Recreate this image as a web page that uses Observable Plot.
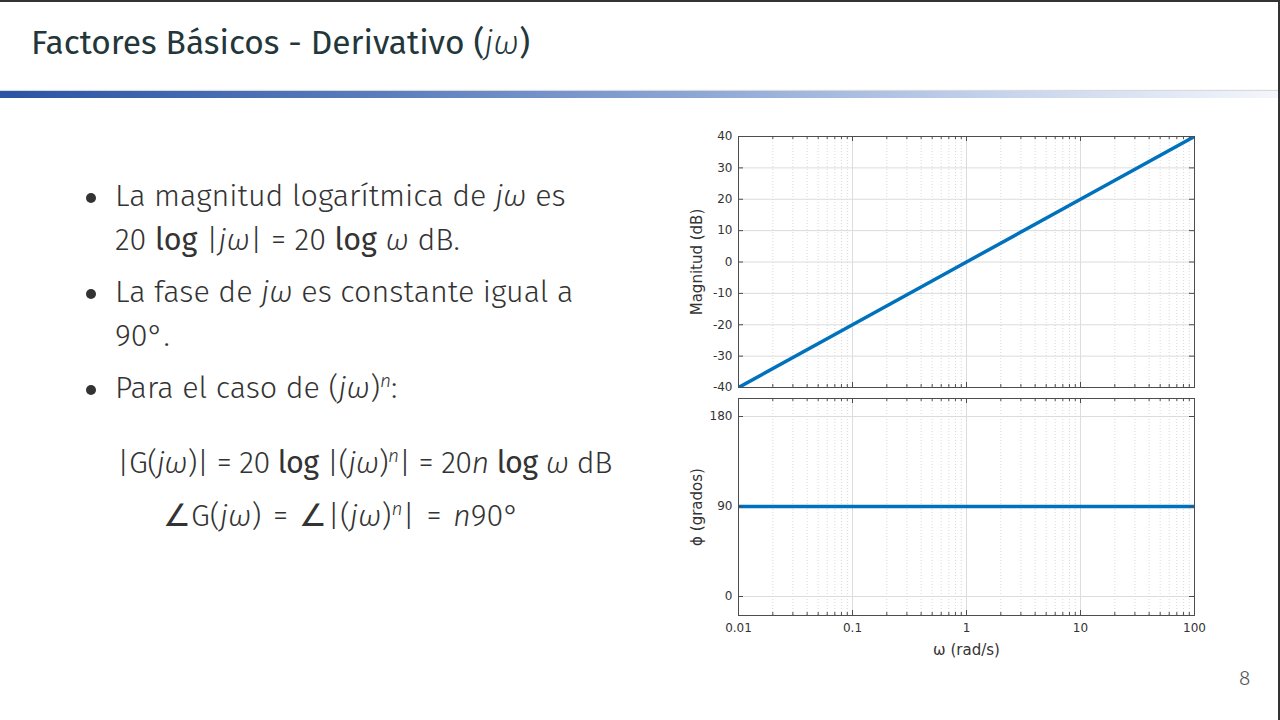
<!DOCTYPE html>
<html><head><meta charset="utf-8">
<script src="https://cdn.jsdelivr.net/npm/d3@7"></script>
<script src="https://cdn.jsdelivr.net/npm/@observablehq/plot@0.6"></script>
<style>
html,body{margin:0;padding:0;}
body{width:1280px;height:720px;position:relative;overflow:hidden;background:#fff;font-family:"Fira Sans",Lato,"Open Sans",sans-serif;color:#2f3b3d;}
#topline{position:absolute;left:0;top:0;width:1280px;height:2px;background:#333;}
#rightline{position:absolute;right:0;top:0;width:2px;height:720px;background:#333;}
#title{position:absolute;left:31px;top:21px;font-size:33.5px;line-height:44px;color:#23373b;white-space:nowrap;}
#bar{position:absolute;left:0;top:91px;width:1278px;height:7px;background:linear-gradient(to right,#2a54a4 0%,#5b7dbd 30%,#8ea8d6 55%,#c9d6ee 80%,#f4f6fb 100%);box-shadow:0 -1px 1px rgba(0,0,0,0.15);}
.ln{position:absolute;white-space:nowrap;font-size:30.5px;line-height:40px;font-weight:300;color:#333;}
.bul{position:absolute;width:10px;height:10px;border-radius:50%;background:#333;}
.m{font-style:italic;}
.lg{font-weight:400;}
sup{line-height:0;font-size:19px;font-style:italic;}
.eq{margin:0 3px;}
#page{position:absolute;left:1239px;top:665px;font-size:21px;color:#555;font-weight:300;}
.chart{position:absolute;left:680px;}
.chart svg{overflow:visible;}
</style></head><body>
<div id="topline"></div><div id="rightline"></div>
<div id="title">Factores Básicos - Derivativo (<span class="m" style="font-weight:300">jω</span>)</div>
<div id="bar"></div>

<div class="bul" style="left:86px;top:193px"></div>
<div class="ln" style="left:115px;top:176px">La magnitud logarítmica de <span class="m">jω</span> es</div>
<div class="ln" style="left:115px;top:220px">20 <span class="lg">log</span> |<span class="m">jω</span>| = 20 <span class="lg">log</span> <span class="m">ω</span> dB.</div>
<div class="bul" style="left:86px;top:289px"></div>
<div class="ln" style="left:115px;top:272px">La fase de <span class="m">jω</span> es constante igual a</div>
<div class="ln" style="left:115px;top:316px">90°.</div>
<div class="bul" style="left:86px;top:385px"></div>
<div class="ln" style="left:115px;top:368px">Para el caso de (<span class="m">jω</span>)<sup>n</sup>:</div>
<div class="ln" style="left:117px;top:443px;letter-spacing:-0.5px">|G(<span class="m">jω</span>)| = 20 <span class="lg">log</span> |(<span class="m">jω</span>)<sup>n</sup>| = 20<span class="m">n</span> <span class="lg">log</span> <span class="m">ω</span> dB</div>
<div class="ln" style="left:163px;top:496px">∠G(<span class="m">jω</span>) <span class="eq">=</span> ∠|(<span class="m">jω</span>)<sup>n</sup>| <span class="eq">=</span> <span class="m">n</span>90°</div>
<div id="page">8</div>

<div id="topChart" class="chart" style="top:126px"></div>
<div id="botChart" class="chart" style="top:388px"></div>

<script>
// Data
const omega = [0.01, 0.1, 1, 10, 100];
const magnitudeDb = [-40, -20, 0, 20, 40];
const phaseDeg = [90, 90, 90, 90, 90];
const xTicks = [0.01, 0.1, 1, 10, 100];
const xTickLabels = ["0.01", "0.1", "1", "10", "100"];
const magTicks = [-40, -30, -20, -10, 0, 10, 20, 30, 40];
const magTickLabels = ["-40", "-30", "-20", "-10", "0", "10", "20", "30", "40"];
const phaseTicks = [0, 90, 180];
const phaseTickLabels = ["0", "90", "180"];

const magData = omega.map((w, i) => ({w, v: magnitudeDb[i]}));
const phaseData = omega.map((w, i) => ({w, v: phaseDeg[i]}));

const minorX = d3.scaleLog().domain([0.01, 100]).ticks()
  .filter(v => Math.abs(Math.log10(v) - Math.round(Math.log10(v))) > 1e-6);

const W = 540, mL = 58, mR = 26, innerW = W - mL - mR;
const lineColor = "#0072BD";
const axisColor = "#4d4d4d";
const font = "DejaVu Sans, sans-serif";

function panel({data, yDomain, yTicks, yTickLabels, innerH, mT, mB, yLabel, showX}) {
  const marks = [
    Plot.gridX(minorX, {stroke: "#d0d0d0", strokeOpacity: 0.8, strokeDasharray: "1,2"}),
    Plot.gridX(xTicks, {stroke: "#dcdcdc", strokeOpacity: 1}),
    Plot.gridY(yTicks, {stroke: "#dcdcdc", strokeOpacity: 1}),
    Plot.line(data, {x: "w", y: "v", stroke: lineColor, strokeWidth: 3.5, clip: true}),
    Plot.frame({stroke: axisColor, strokeWidth: 1}),
    Plot.tickX(xTicks, {x: d => d, insetTop: innerH - 5, stroke: axisColor}),
    Plot.tickX(xTicks, {x: d => d, insetBottom: innerH - 5, stroke: axisColor}),
    Plot.tickX(minorX, {x: d => d, insetTop: innerH - 3, stroke: axisColor}),
    Plot.tickX(minorX, {x: d => d, insetBottom: innerH - 3, stroke: axisColor}),
    Plot.tickY(yTicks, {y: d => d, insetRight: innerW - 5, stroke: axisColor}),
    Plot.tickY(yTicks, {y: d => d, insetLeft: innerW - 5, stroke: axisColor}),
    Plot.axisY(yTicks, {anchor: "left", tickSize: 0, tickPadding: 6, fontSize: 12, fill: "#333",
      tickFormat: d => yTickLabels[yTicks.indexOf(d)], label: null}),
    Plot.text([yLabel], {text: d => d, frameAnchor: "left", textAnchor: "middle", lineAnchor: "middle",
      dx: -41, rotate: -90, fontSize: 15, fill: "#333", fontFamily: font})
  ];
  if (showX) {
    marks.push(Plot.axisX(xTicks, {anchor: "bottom", tickSize: 0, tickPadding: 8, fontSize: 12, fill: "#333",
      tickFormat: d => xTickLabels[xTicks.indexOf(d)], label: null}));
    marks.push(Plot.text(["ω (rad/s)"], {text: d => d, frameAnchor: "bottom", lineAnchor: "middle", dy: 35,
      fontSize: 15, fill: "#333", fontFamily: font}));
  } else {
    marks.push(Plot.axisX({anchor: "bottom", ticks: [], label: null}));
  }
  return Plot.plot({
    width: W,
    height: mT + innerH + mB,
    marginLeft: mL, marginRight: mR, marginTop: mT, marginBottom: mB,
    style: {fontFamily: font, fontSize: "12px", color: "#333", background: "transparent"},
    x: {type: "log", domain: [0.01, 100]},
    y: {domain: yDomain},
    marks
  });
}

const magChart = panel({data: magData, yDomain: [-40, 40], yTicks: magTicks, yTickLabels: magTickLabels,
  innerH: 251, mT: 10, mB: 3, yLabel: "Magnitud (dB)", showX: false});
document.getElementById("topChart").append(magChart);

const phaseChart = panel({data: phaseData, yDomain: [-19, 198], yTicks: phaseTicks, yTickLabels: phaseTickLabels,
  innerH: 217, mT: 10, mB: 50, yLabel: "ϕ (grados)", showX: true});
document.getElementById("botChart").append(phaseChart);
</script>
</body></html>
